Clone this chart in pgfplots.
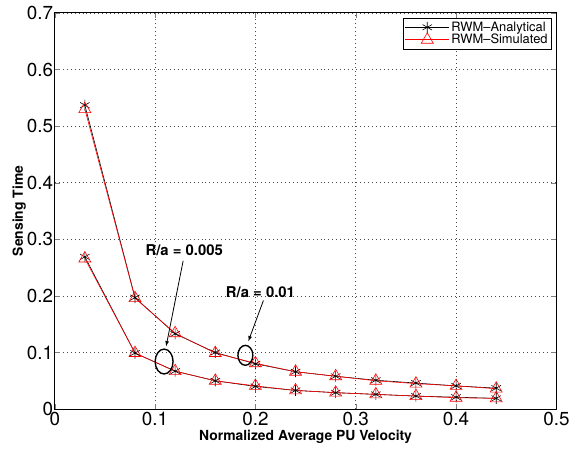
\documentclass[border=0pt]{standalone}
\usepackage{pgfplots}
\pgfplotsset{compat=1.18}
\usepackage{fontspec}
\setmainfont{TeX Gyre Heros}
\begin{document}
\begin{tikzpicture}
\begin{axis}[
    scale only axis,
    width=504bp, height=398bp,
    xmin=0, xmax=0.5, ymin=0, ymax=0.7,
    xtick={0,0.1,...,0.5}, ytick={0,0.1,...,0.7},
    /pgf/number format/assume math mode=true,
    ticklabel style={font=\fontsize{19}{21}\selectfont, inner sep=1.5bp},
    xticklabel style={/pgf/number format/fixed, yshift=-1.5bp},
    yticklabel style={/pgf/number format/fixed},
    xlabel={\bfseries Normalized Average PU Velocity},
    ylabel={\bfseries Sensing Time},
    label style={font=\fontsize{14}{16}\selectfont},
    xlabel style={inner sep=1bp, yshift=-2bp},
    ylabel style={yshift=-4bp},
    grid=major,
    major grid style={black!70, line width=0.6pt, dash pattern=on 1pt off 3pt},
    tick align=inside,
    major tick length=5bp,
    axis line style={line width=0.9pt},
    legend style={at={(0.99,0.987)}, anchor=north east, font=\fontsize{13}{14}\selectfont,
        draw=black, line width=0.6pt, inner sep=1.5pt, row sep=-2.5pt},
    legend cell align=left,
    legend image code/.code={\draw[mark repeat=2, mark phase=2] plot coordinates {(0bp,0bp) (22bp,0bp) (44bp,0bp)};},
]
\addplot[black, mark=asterisk, mark size=5.5bp, line width=0.6pt] coordinates {
    (0.03,0.537) (0.08,0.197) (0.12,0.133) (0.16,0.100) (0.20,0.080) (0.24,0.066)
    (0.28,0.058) (0.32,0.051) (0.36,0.046) (0.40,0.041) (0.44,0.037)
};
\addplot[red, mark=triangle, mark size=7bp, line width=0.6pt] coordinates {
    (0.03,0.530) (0.08,0.196) (0.12,0.134) (0.16,0.099) (0.20,0.081) (0.24,0.066)
    (0.28,0.058) (0.32,0.050) (0.36,0.045) (0.40,0.041) (0.44,0.036)
};
\addplot[black, mark=asterisk, mark size=5.5bp, line width=0.6pt, forget plot] coordinates {
    (0.03,0.269) (0.08,0.099) (0.12,0.067) (0.16,0.050) (0.20,0.040) (0.24,0.033)
    (0.28,0.029) (0.32,0.026) (0.36,0.023) (0.40,0.021) (0.44,0.019)
};
\addplot[red, mark=triangle, mark size=7bp, line width=0.6pt, forget plot] coordinates {
    (0.03,0.266) (0.08,0.099) (0.12,0.067) (0.16,0.050) (0.20,0.041) (0.24,0.033)
    (0.28,0.029) (0.32,0.026) (0.36,0.023) (0.40,0.020) (0.44,0.019)
};
\legend{RWM--Analytical, RWM--Simulated}
% annotations
\draw[line width=1.4pt] (axis cs:0.109,0.084) ellipse [x radius=9bp, y radius=12.5bp];
\draw[line width=1.4pt] (axis cs:0.190,0.095) ellipse [x radius=7.5bp, y radius=10bp];
\draw[-latex, line width=0.8pt] (axis cs:0.128,0.262) -- (axis cs:0.111,0.111);
\draw[-latex, line width=0.8pt] (axis cs:0.208,0.192) -- (axis cs:0.193,0.120);
\node[font=\fontsize{15}{17}\selectfont\bfseries] at (axis cs:0.129,0.281) {R/a = 0.005};
\node[font=\fontsize{15}{17}\selectfont\bfseries] at (axis cs:0.205,0.207) {R/a = 0.01};
\coordinate (BL) at (rel axis cs:0,0);
\coordinate (TR) at (rel axis cs:1,1);
\end{axis}
\path ([shift={(-55bp,-43bp)}]BL) rectangle ([shift={(12bp,13bp)}]TR);
\end{tikzpicture}
\end{document}
